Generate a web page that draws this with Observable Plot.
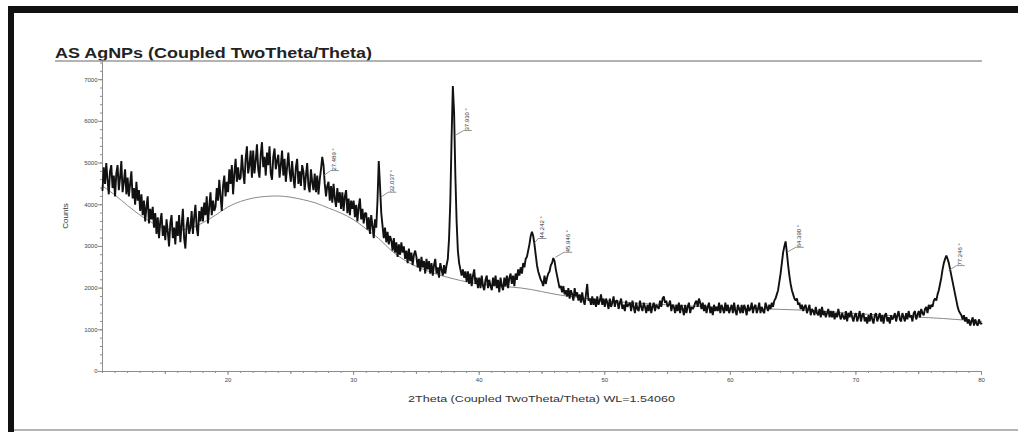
<!DOCTYPE html>
<html>
<head>
<meta charset="utf-8">
<script src="https://cdn.jsdelivr.net/npm/d3@7"></script>
<script src="https://cdn.jsdelivr.net/npm/@observablehq/plot@0.6"></script>
<style>
  html, body { margin: 0; padding: 0; background: #fff; }
  body { width: 1018px; height: 432px; overflow: hidden; position: relative; font-family: "Liberation Sans", Arial, sans-serif; }
  #frameTop { position: absolute; left: 8px; top: 6px; width: 1010px; height: 7px; background: #111; }
  #frameLeft { position: absolute; left: 8px; top: 6px; width: 6px; height: 426px; background: #111; }
  #frameBottom { position: absolute; left: 14px; top: 429px; width: 1004px; height: 2px; background: #b5b5b5; }
  #chart { position: absolute; left: 0; top: 0; }
</style>
</head>
<body>
<div id="chart"></div>
<div id="frameTop"></div>
<div id="frameLeft"></div>
<div id="frameBottom"></div>
<script>
// ---- data ----
const chartTitle = "AS AgNPs (Coupled TwoTheta/Theta)";
const xTitle = "2Theta (Coupled TwoTheta/Theta) WL=1.54060";
const yTitle = "Counts";

const twoThetaStart = 10;   // degrees
const twoThetaStep = 0.1;   // degrees per sample
const counts = [
  4350,4900,4500,5000,4600,4250,4800,4950,4400,4700, // 10
  4200,4750,4950,4350,4650,5050,4300,4550,4850,4250, // 11
  4650,4200,4500,4800,4150,4400,4000,4550,4100,4350, // 12
  3850,4250,3750,4100,3600,3950,4200,3550,3900,3650, // 13
  3950,3450,3800,3300,3700,3200,3600,3800,3250,3500, // 14
  3150,3650,3350,3000,3550,3750,3200,3450,3050,3600, // 15
  3250,3750,3100,3500,3900,3200,2950,3500,3700,3300, // 16
  3450,3850,3300,3700,4000,3450,3250,3850,3600,3950, // 17
  3600,4050,3750,4200,3550,3950,4300,3750,4100,3850, // 18
  3950,4400,4100,4600,4200,3850,4450,4700,4200,4550, // 19
  4300,4850,4500,4950,4250,4750,5100,4550,4900,4600, // 20
  4650,5200,4800,4500,5100,5400,4750,4950,5300,4650, // 21
  5300,4750,5050,5450,4850,4650,5200,5500,4900,5150, // 22
  4700,5250,4950,5400,4750,4600,5150,5350,4850,5050, // 23
  5200,4650,4950,5300,4700,5100,4550,4900,5250,4800, // 24
  4550,5050,4650,4400,4900,5100,4500,4800,4450,4950, // 25
  4800,4350,4700,5000,4450,4300,4850,4550,4350,4750, // 26
  4300,4700,4250,4600,4850,5150,4950,4500,4200,4450, // 27
  4550,4100,4450,4050,4500,4150,3950,4400,4050,4300, // 28
  3900,4300,3850,4200,4350,3800,4150,3750,4100,3900, // 29
  4100,3700,4000,3600,3950,4150,3650,3900,3550,3800, // 30
  3800,3400,3700,3300,3750,3500,3200,3650,3450,4100, // 31
  5050,4450,3800,3500,3200,3450,3100,3350,3050,3250, // 32
  3150,2900,3200,2850,3100,2750,3050,2800,3100,2850, // 33
  3000,2700,2900,2600,2950,2650,2850,2550,2800,2900, // 34
  2750,2500,2700,2400,2750,2500,2650,2350,2700,2450, // 35
  2650,2350,2600,2300,2550,2700,2350,2500,2250,2600, // 36
  2450,2300,2550,2350,2550,2700,3200,4100,5600,6850, // 37
  6200,4700,3600,2900,2600,2450,2300,2450,2250,2400, // 38
  2150,2400,2100,2350,2050,2300,2450,2100,2250,2000, // 39
  2250,2000,2300,2050,1950,2200,2300,2000,2200,2050, // 40
  1950,2250,2050,2300,2000,2200,1900,2250,2050,1950, // 41
  2250,2050,2300,2000,2250,2350,2100,2300,2050,2350, // 42
  2200,2450,2300,2500,2350,2600,2500,2700,2750,2900, // 43
  3050,3250,3350,3250,3050,2800,2550,2400,2300,2200, // 44
  2150,2050,2300,2100,2250,2350,2400,2550,2600,2720, // 45
  2650,2450,2300,2150,2000,2050,1900,2050,1850,1950, // 46
  1800,2000,1750,1950,1850,1700,2000,1800,1900,1700, // 47
  1850,1650,1900,1700,1600,1850,2100,1700,1750,1600, // 48
  1800,1600,1750,1550,1800,1600,1700,1850,1600,1750, // 49
  1550,1750,1650,1500,1750,1550,1650,1800,1550,1700, // 50
  1700,1500,1650,1750,1500,1600,1450,1700,1550,1600, // 51
  1650,1450,1700,1550,1400,1650,1500,1450,1700,1550, // 52
  1450,1650,1550,1400,1600,1450,1650,1400,1550,1650, // 53
  1450,1600,1550,1500,1700,1550,1750,1800,1650,1700, // 54
  1550,1600,1700,1450,1600,1550,1400,1600,1450,1650, // 55
  1400,1600,1500,1350,1600,1400,1550,1650,1400,1550, // 56
  1500,1550,1650,1700,1550,1750,1650,1500,1650,1450, // 57
  1600,1400,1550,1650,1400,1550,1350,1600,1450,1550, // 58
  1450,1650,1400,1600,1500,1400,1650,1450,1600,1400, // 59
  1500,1600,1400,1650,1450,1350,1600,1500,1400,1600, // 60
  1400,1600,1500,1350,1600,1450,1500,1650,1400,1550, // 61
  1600,1400,1500,1650,1400,1550,1450,1400,1650,1550, // 62
  1450,1600,1500,1650,1550,1700,1750,1850,1950,2150, // 63
  2350,2600,2850,3000,3120,2850,2550,2300,2100,1950, // 64
  1850,1750,1700,1750,1600,1650,1500,1600,1450,1550, // 65
  1600,1400,1500,1600,1350,1500,1450,1350,1550,1400, // 66
  1350,1500,1300,1550,1350,1450,1300,1400,1500,1300, // 67
  1450,1300,1450,1250,1400,1300,1500,1350,1250,1400, // 68
  1300,1250,1450,1200,1400,1300,1450,1300,1200,1350, // 69
  1400,1200,1300,1450,1200,1350,1400,1200,1300,1150, // 70
  1350,1200,1400,1250,1150,1350,1400,1200,1300,1400, // 71
  1200,1350,1150,1350,1400,1200,1300,1150,1350,1250, // 72
  1300,1400,1200,1350,1450,1250,1200,1400,1300,1200, // 73
  1400,1250,1450,1300,1350,1200,1400,1450,1250,1350, // 74
  1450,1300,1500,1400,1350,1500,1550,1400,1600,1500, // 75
  1600,1550,1700,1750,1700,1850,1950,2100,2250,2450, // 76
  2600,2700,2780,2700,2600,2450,2300,2150,2000,1850, // 77
  1700,1550,1450,1400,1350,1250,1350,1200,1300,1150, // 78
  1250,1100,1200,1300,1100,1250,1150,1100,1250,1150, // 79
  1150                                               // 80
];

const backgroundTheta  = [10,11,12,13,14,15,16,17,18,19,20,21,22,23,24,25,26,27,28,29,30,31,32,33,34,35,36,37,38,39,40,42,43.4,46.5,50,55,60,64,66,70,74,77,80];
const backgroundCounts = [4450,4230,3980,3750,3560,3430,3390,3440,3570,3750,3950,4080,4160,4200,4210,4180,4120,4040,3920,3800,3640,3420,3190,2900,2680,2520,2400,2300,2220,2150,2100,2040,2000,1830,1700,1600,1530,1490,1470,1390,1320,1270,1200];

const peakTheta   = [27.489, 32.037, 37.930, 44.242, 45.946, 64.390, 77.246];
const peakLabels  = ["27.489 °", "32.037 °", "37.930 °", "44.242 °", "45.946 °", "64.390 °", "77.246 °"];
const labelTheta  = [28.47, 33.05, 39.06, 44.99, 47.06, 65.5, 78.31];
const labelCounts = [4820, 4300, 5780, 3190, 2860, 2980, 2540];

const yTickValues = [0, 1000, 2000, 3000, 4000, 5000, 6000, 7000];
const xTickValues = [20, 30, 40, 50, 60, 70, 80];

// ---- build tables ----
const scan = counts.map((c, i) => ({theta: +(twoThetaStart + i * twoThetaStep).toFixed(2), counts: c}));
const background = backgroundTheta.map((t, i) => ({theta: t, counts: backgroundCounts[i]}));
const peaks = peakTheta.map((t, i) => ({theta: t, label: peakLabels[i], lx: labelTheta[i], ly: labelCounts[i]}));

const axisColor = "#8c8c8c";
const textColor = "#444";

const svg = Plot.plot({
  width: 1018,
  height: 432,
  marginLeft: 102,
  marginRight: 37,
  marginTop: 60,
  marginBottom: 61,
  style: {background: "transparent", fontFamily: "'Liberation Sans', Arial, sans-serif", color: textColor},
  x: {domain: [10, 80]},
  y: {domain: [0, 7460]},
  marks: [
    Plot.ruleX([10], {stroke: axisColor, strokeWidth: 1}),
    Plot.ruleY([0], {stroke: axisColor, strokeWidth: 1}),
    Plot.axisY({ticks: d3.range(0, 7401, 200), tickSize: 2, tickFormat: () => "", stroke: axisColor, label: null}),
    Plot.axisY({ticks: yTickValues, tickSize: 4, tickPadding: 1, tickFormat: d => String(d), fontSize: 6, stroke: axisColor, fill: textColor, label: null}),
    Plot.axisX({ticks: d3.range(10, 81, 1), tickSize: 2, tickFormat: () => "", stroke: axisColor, label: null}),
    Plot.axisX({ticks: d3.range(15, 80, 10), tickSize: 3, tickFormat: () => "", stroke: axisColor, label: null}),
    Plot.axisX({ticks: xTickValues, tickSize: 4, tickPadding: 2, tickFormat: d => String(d), fontSize: 6, stroke: axisColor, fill: textColor, label: null}),
    Plot.line(background, {x: "theta", y: "counts", stroke: "#8a8a8a", strokeWidth: 1, curve: "monotone-x"}),
    Plot.line(scan, {x: "theta", y: "counts", stroke: "#111", strokeWidth: 1.9, strokeLinejoin: "miter"}),
    Plot.link(peaks, {x1: d => d.theta + 0.12, y1: d => d.ly - 120, x2: d => d.lx - 0.3, y2: "ly", stroke: "#777", strokeWidth: 0.8}),
    Plot.link(peaks, {x1: d => d.lx - 0.3, y1: "ly", x2: d => d.lx + 0.35, y2: "ly", stroke: "#777", strokeWidth: 0.8}),
    Plot.text(peaks, {x: "lx", y: "ly", text: "label", rotate: -90, textAnchor: "start", fontSize: 6, fill: "#333"})
  ]
});
document.getElementById("chart").appendChild(svg);

// titles as real text inside the same svg
const s = d3.select(svg);
s.append("text")
  .attr("x", 55).attr("y", 58)
  .attr("text-anchor", "start")
  .attr("font-size", 14).attr("font-weight", "bold").attr("fill", "#222")
  .attr("textLength", 317).attr("lengthAdjust", "spacingAndGlyphs")
  .text(chartTitle);
s.append("line")
  .attr("x1", 55).attr("x2", 982).attr("y1", 61).attr("y2", 61)
  .attr("stroke", "#9a9a9a").attr("stroke-width", 1.5);
s.append("text")
  .attr("x", 408).attr("y", 402)
  .attr("text-anchor", "start")
  .attr("font-size", 9).attr("fill", "#333")
  .attr("textLength", 267).attr("lengthAdjust", "spacingAndGlyphs")
  .text(xTitle);
s.append("text")
  .attr("transform", "translate(68,216) rotate(-90)")
  .attr("text-anchor", "middle")
  .attr("font-size", 8).attr("fill", "#333")
  .text(yTitle);
</script>
</body>
</html>
